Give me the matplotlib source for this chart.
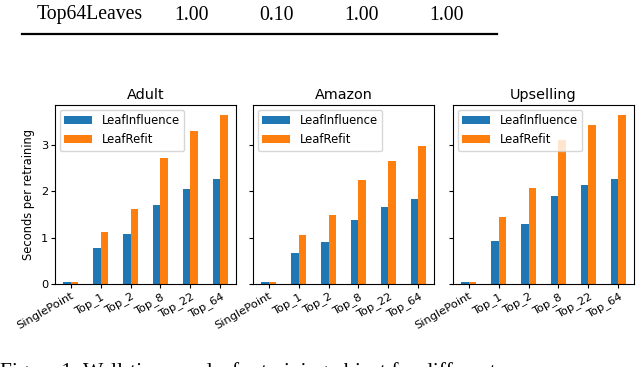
import numpy as np
import matplotlib
matplotlib.use("Agg")
import matplotlib.pyplot as plt

# --- data ---
DATASETS = ["Adult", "Amazon", "Upselling"]
CATEGORIES = ["SinglePoint", "Top_1", "Top_2", "Top_8", "Top_22", "Top_64"]

adult_influence = [0.04, 0.78, 1.08, 1.70, 2.06, 2.26]
adult_refit = [0.04, 1.13, 1.62, 2.73, 3.30, 3.65]
amazon_influence = [0.04, 0.68, 0.91, 1.39, 1.67, 1.84]
amazon_refit = [0.04, 1.06, 1.49, 2.25, 2.65, 2.99]
upselling_influence = [0.04, 0.93, 1.30, 1.90, 2.14, 2.27]
upselling_refit = [0.04, 1.44, 2.07, 3.12, 3.44, 3.66]

table_row = ["Top64Leaves", "1.00", "0.10", "1.00", "1.00"]
caption = "Figure 1: Wall-time per leaf retraining object for different"

fig = plt.figure(figsize=(6.4, 3.67), dpi=100)

# table fragment above the chart
serif = "Liberation Serif"
fig.text(37 / 640, 1 - 15 / 367, table_row[0], family=serif, fontsize=14.2,
         ha="left", va="center")
for x_px, val in zip([192, 277, 362, 447], table_row[1:]):
    fig.text(x_px / 640, 1 - 15 / 367, val, family=serif, fontsize=14.2,
             ha="center", va="center")
fig.add_artist(plt.Line2D([22 / 640, 497 / 640], [1 - 34 / 367] * 2,
                          color="black", lw=1.6))

# the three bar panels
lefts = [55, 253, 453]
width_px = 181
bottom = 1 - 284 / 367
height = (284 - 105) / 367
series = [
    (adult_influence, adult_refit),
    (amazon_influence, amazon_refit),
    (upselling_influence, upselling_refit),
]
x = np.arange(len(CATEGORIES))
bw = 0.25
for i, (name, (infl, refit)) in enumerate(zip(DATASETS, series)):
    ax = fig.add_axes([lefts[i] / 640, bottom, width_px / 640, height])
    ax.bar(x - bw / 2, infl, bw, color="#1f77b4", label="LeafInfluence")
    ax.bar(x + bw / 2, refit, bw, color="#ff7f0e", label="LeafRefit")
    ax.set_ylim(0, 3.87)
    ax.set_yticks([0, 1, 2, 3])
    ax.set_xticks(x)
    ax.set_xticklabels(CATEGORIES, rotation=30, ha="right",
                       rotation_mode="anchor", fontsize=8.2)
    ax.tick_params(axis="both", labelsize=8.2, length=3, pad=2)
    if i == 0:
        ax.set_ylabel("Seconds per retraining", fontsize=8.3)
    else:
        ax.set_yticklabels([])
    ax.set_title(name, fontsize=10.4, pad=4)
    ax.legend(loc="upper left", fontsize=8.4, handlelength=2.4,
              borderaxespad=0.4)

# caption, cut off by the lower edge as in the reference
fig.text(0, 1 - 362 / 367, caption, family=serif, fontsize=15.5,
         ha="left", va="top")

fig.savefig("out.png", dpi=100)
